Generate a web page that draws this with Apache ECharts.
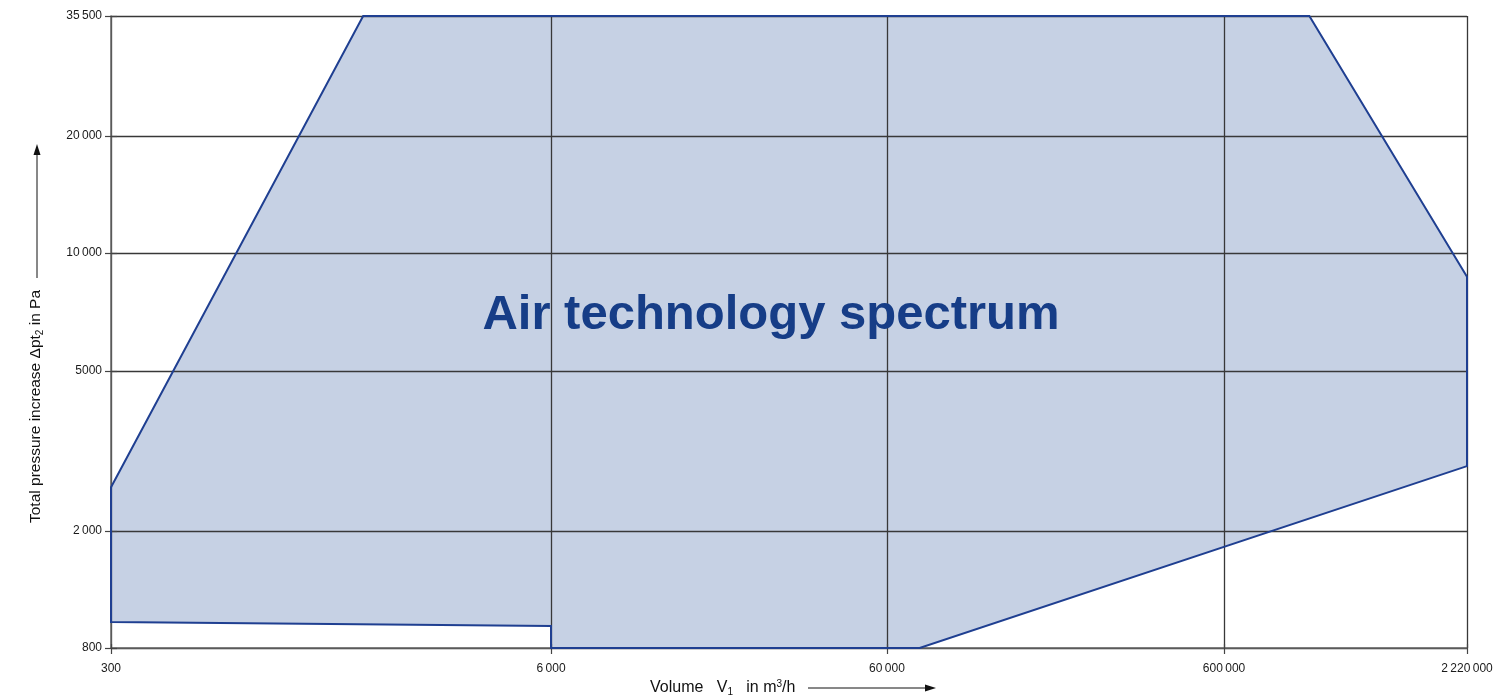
<!DOCTYPE html>
<html>
<head>
<meta charset="utf-8">
<script src="https://cdn.jsdelivr.net/npm/echarts@6/dist/echarts.min.js"></script>
<style>
html, body { margin: 0; padding: 0; background: #fff; }
#container { width: 1509px; height: 700px; }
</style>
</head>
<body>
<div id="container"></div>
<script>
// axis ticks (the chart is schematic, ticks are not evenly spaced in log)
var xTicks = [300, 6000, 60000, 600000, 2220000];
var xTickLabels = ['300', '6\u2009000', '60\u2009000', '600\u2009000', '2\u2009220\u2009000'];
var yTicks = [800, 2000, 5000, 10000, 20000, 35500];
var yTickLabels = ['800', '2\u2009000', '5000', '10\u2009000', '20\u2009000', '35\u2009500'];

// outline of the spectrum, in m3/h and Pa
var volume   = [300, 1670, 950000, 2220000, 2220000, 75000, 6000, 6000, 300];
var pressure = [2570, 35500, 35500, 8700, 2900, 800, 800, 950, 980];

// where each tick sits along the axis (layout of the drawing)
var xTickPos = [0, 440, 776, 1113, 1356];
var yTickPos = [0, 117, 277, 395, 512, 632];

var FONT = 'Liberation Sans, Arial, sans-serif';

// piecewise log scale between the ticks
function scalePos(v, ticks, pos) {
    for (var i = 0; i < ticks.length - 1; i++) {
        if (v <= ticks[i + 1] || i == ticks.length - 2) {
            var f = (Math.log(v) - Math.log(ticks[i])) / (Math.log(ticks[i + 1]) - Math.log(ticks[i]));
            return pos[i] + f * (pos[i + 1] - pos[i]);
        }
    }
}

function polygonItem(style) {
    return function (params, api) {
        var pts = [];
        for (var i = 0; i < volume.length; i++) {
            pts.push(api.coord([scalePos(volume[i], xTicks, xTickPos), scalePos(pressure[i], yTicks, yTickPos)]));
        }
        return { type: 'polygon', shape: { points: pts }, style: style };
    };
}

var gridLine = { show: true, lineStyle: { color: '#383838', width: 1.3 } };
var tickStyle = { color: '#444', width: 1.2 };

var dom = document.getElementById("container");
var myChart = echarts.init(dom);
var option = {
    animation: false,
    grid: { left: 111, top: 16, width: 1356, height: 632 },
    xAxis: [{
        type: 'value',
        min: 0,
        max: xTickPos[xTickPos.length - 1],
        z: 3,
        axisLine: { show: true, lineStyle: { color: '#666', width: 1.5 } },
        axisTick: { show: true, length: 6, customValues: xTickPos, lineStyle: tickStyle },
        axisLabel: {
            customValues: xTickPos,
            margin: 15,
            fontSize: 12,
            fontFamily: FONT,
            color: '#1a1a1a',
            formatter: function (v) { return xTickLabels[xTickPos.indexOf(v)]; }
        },
        splitLine: gridLine
    }, {
        type: 'value',
        position: 'top',
        min: 0,
        max: xTickPos[xTickPos.length - 1],
        z: 3,
        axisLine: { show: false },
        axisTick: { show: true, length: 4, customValues: xTickPos, lineStyle: tickStyle },
        axisLabel: { show: false },
        splitLine: { show: false }
    }],
    yAxis: [{
        type: 'value',
        min: 0,
        max: yTickPos[yTickPos.length - 1],
        z: 3,
        axisLine: { show: true, lineStyle: { color: '#666', width: 1.5 } },
        axisTick: { show: true, length: 6, customValues: yTickPos, lineStyle: tickStyle },
        axisLabel: {
            customValues: yTickPos,
            margin: 9,
            fontSize: 12,
            fontFamily: FONT,
            color: '#1a1a1a',
            formatter: function (v) { return yTickLabels[yTickPos.indexOf(v)]; }
        },
        splitLine: gridLine
    }, {
        type: 'value',
        position: 'right',
        min: 0,
        max: yTickPos[yTickPos.length - 1],
        z: 3,
        axisLine: { show: false },
        axisTick: { show: true, length: 6, customValues: yTickPos, lineStyle: tickStyle },
        axisLabel: { show: false },
        splitLine: { show: false }
    }],
    series: [{
        type: 'custom',
        z: 1,
        clip: false,
        silent: true,
        data: [[0, 0]],
        renderItem: polygonItem({ fill: '#c6d1e4', stroke: 'none' })
    }, {
        type: 'custom',
        z: 5,
        clip: false,
        silent: true,
        data: [[0, 0]],
        renderItem: polygonItem({ fill: 'none', stroke: '#1f3f91', lineWidth: 2, lineJoin: 'miter' })
    }],
    graphic: [{
        type: 'text',
        z: 10,
        x: 771, y: 315,
        style: {
            text: 'Air technology spectrum',
            fill: '#163d87',
            font: 'bold 49px ' + FONT,
            align: 'center',
            verticalAlign: 'middle'
        }
    }, {
        // x axis name with arrow
        type: 'text',
        x: 650, y: 688,
        style: {
            text: 'Volume   V{sub|1}   in m{sup|3}/h',
            fill: '#111',
            font: '16px ' + FONT,
            align: 'left',
            verticalAlign: 'middle',
            rich: {
                sub: { fontSize: 10, fontFamily: FONT, padding: [9, 0, 0, 0], fill: '#111' },
                sup: { fontSize: 10, fontFamily: FONT, padding: [0, 0, 8, 0], fill: '#111' }
            }
        }
    }, {
        type: 'line',
        shape: { x1: 808, y1: 688, x2: 928, y2: 688 },
        style: { stroke: '#111', lineWidth: 1 }
    }, {
        type: 'polygon',
        shape: { points: [[936, 688], [925, 684.5], [925, 691.5]] },
        style: { fill: '#111' }
    }, {
        // y axis name with arrow
        type: 'text',
        x: 36, y: 523,
        rotation: Math.PI / 2,
        style: {
            text: 'Total pressure increase \u0394pt{sub|2} in Pa',
            fill: '#111',
            font: '15.5px ' + FONT,
            align: 'left',
            verticalAlign: 'middle',
            rich: {
                sub: { fontSize: 10, fontFamily: FONT, padding: [9, 0, 0, 0], fill: '#111' }
            }
        }
    }, {
        type: 'line',
        shape: { x1: 37, y1: 278, x2: 37, y2: 152 },
        style: { stroke: '#111', lineWidth: 1 }
    }, {
        type: 'polygon',
        shape: { points: [[37, 144], [33.5, 155], [40.5, 155]] },
        style: { fill: '#111' }
    }]
};
if (option && typeof option === "object") {
    myChart.setOption(option, true);
}
</script>
</body>
</html>
